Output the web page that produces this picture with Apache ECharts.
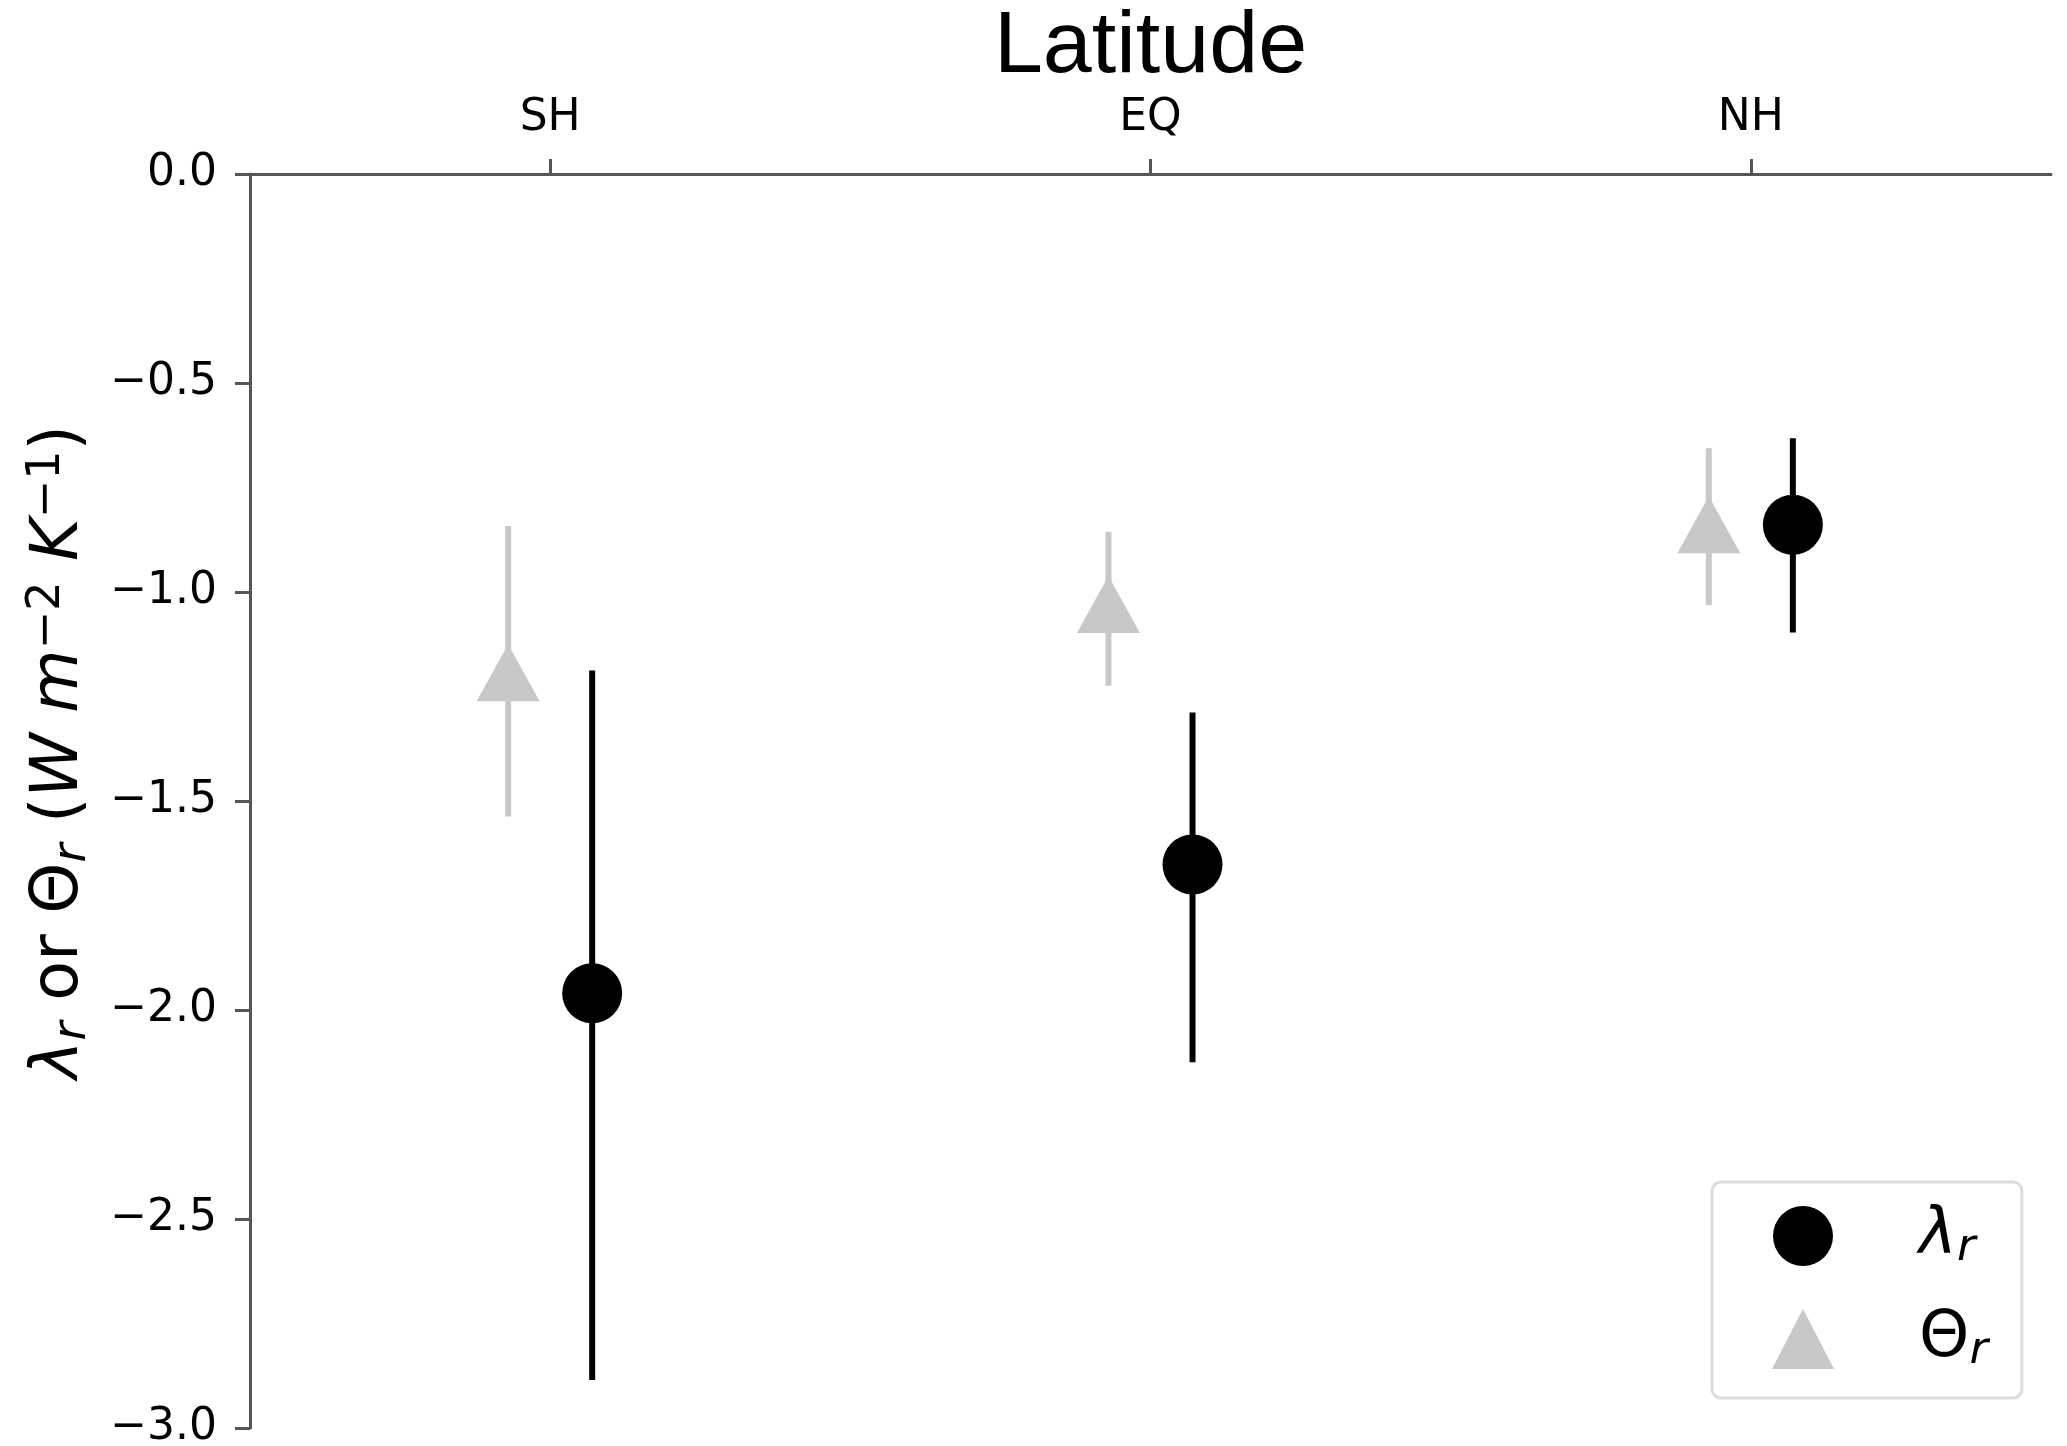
<!DOCTYPE html>
<html>
<head>
<meta charset="utf-8">
<script src="https://cdn.jsdelivr.net/npm/echarts@6/dist/echarts.min.js"></script>
<style>
  html, body { margin: 0; padding: 0; background: #fff; }
  #main { width: 2067px; height: 1446px; }
</style>
</head>
<body>
<div id="main"></div>
<script>
// regions along the top axis
const regions = ['SH', 'EQ', 'NH'];
const regionPos = [-1, 0, 1];

// lambda_r : value and error bar ends
const lambdaVal = [-1.96, -1.652, -0.839];
const lambdaLow = [-2.885, -2.125, -1.097];
const lambdaHigh = [-1.188, -1.288, -0.632];

// Theta_r : value and error bar ends
const thetaVal = [-1.193, -1.030, -0.839];
const thetaLow = [-1.537, -1.224, -1.031];
const thetaHigh = [-0.842, -0.856, -0.656];

const dodge = 0.07;   // side shift of the two series around each region
const black = '#000000', grey = '#c8c8c8';

let lambdaPts = regionPos.map((p, i) => [p + dodge, lambdaVal[i]]);
let thetaPts = regionPos.map((p, i) => [p - dodge, thetaVal[i]]);
let lambdaBars = regionPos.map((p, i) => [p + dodge, lambdaLow[i], lambdaHigh[i]]);
let thetaBars = regionPos.map((p, i) => [p - dodge, thetaLow[i], thetaHigh[i]]);

// vertical error bar, no caps
let errorBar = (color) => (params, api) => {
    let a = api.coord([api.value(0), api.value(1)]);
    let b = api.coord([api.value(0), api.value(2)]);
    return {
        type: 'line',
        shape: { x1: a[0], y1: a[1], x2: b[0], y2: b[1] },
        style: { stroke: color, lineWidth: 6 }
    };
};

let axisGrey = '#555555';
let myChart = echarts.init(document.getElementById('main'), null, { renderer: 'canvas' });
myChart.setOption({
    backgroundColor: '#ffffff',
    animation: false,
    grid: { left: 250, right: 16, top: 174, bottom: 18, outerBoundsMode: 'none' },
    xAxis: {
        type: 'value',
        position: 'top',
        min: -1.5,
        max: 1.5,
        splitLine: { show: false },
        axisLine: { show: true, onZero: false, lineStyle: { color: axisGrey, width: 3 } },
        axisTick: { show: true, length: 15, customValues: regionPos, lineStyle: { color: axisGrey, width: 3 } },
        axisLabel: {
            customValues: regionPos,
            formatter: (v) => regions[regionPos.indexOf(v)],
            fontSize: 44, fontFamily: 'DejaVu Sans', color: '#000', margin: 33
        },
        name: 'Latitude',
        nameLocation: 'middle',
        nameGap: 82,
        nameTextStyle: { fontSize: 88, fontFamily: 'Liberation Sans', color: '#000' }
    },
    yAxis: {
        type: 'value',
        min: -3,
        max: 0,
        interval: 0.5,
        splitLine: { show: false },
        axisLine: { show: true, onZero: false, lineStyle: { color: axisGrey, width: 3 } },
        axisTick: { show: true, length: 15, lineStyle: { color: axisGrey, width: 3 } },
        axisLabel: {
            formatter: (v) => (v < 0 ? '\u2212' : '') + Math.abs(v).toFixed(1),
            fontSize: 44, fontFamily: 'DejaVu Sans', color: '#000', margin: 33
        }
    },
    legend: {
        data: [{ name: 'lambda', icon: 'circle' }, { name: 'theta', icon: 'triangle' }],
        orient: 'vertical',
        left: 1712,
        top: 1182,
        padding: [22, 34, 24, 60],
        itemWidth: 62,
        itemHeight: 60,
        itemGap: 36,
        selectedMode: false,
        backgroundColor: '#ffffff',
        borderColor: '#dcdcdc',
        borderWidth: 3,
        borderRadius: 9,
        formatter: (n) => n === 'lambda' ? '{g|λ}{s|r}' : '{u|Θ}{s|r}',
        textStyle: {
            color: '#000',
            rich: {
                g: { fontSize: 64, fontFamily: 'DejaVu Sans', fontStyle: 'italic', lineHeight: 70, padding: [0, 0, 0, 80] },
                u: { fontSize: 64, fontFamily: 'DejaVu Sans', lineHeight: 70, padding: [0, 0, 0, 80] },
                s: { fontSize: 45, fontFamily: 'DejaVu Sans', fontStyle: 'italic', lineHeight: 38, verticalAlign: 'bottom' }
            }
        }
    },
    graphic: [{
        type: 'text',
        x: 60,
        y: 752,
        rotation: Math.PI / 2,
        style: {
            text: '{i|λ}{s|r}{n| or Θ}{s|r}{n| (}{i|W m}{p|\u22122}{i| K}{p|\u22121}{n|)}',
            align: 'center',
            verticalAlign: 'middle',
            fill: '#000',
            rich: {
                n: { fontSize: 65, fontFamily: 'DejaVu Sans', lineHeight: 72, fill: '#000' },
                i: { fontSize: 65, fontFamily: 'DejaVu Sans', fontStyle: 'italic', lineHeight: 72, fill: '#000' },
                s: { fontSize: 46, fontFamily: 'DejaVu Sans', fontStyle: 'italic', lineHeight: 38, verticalAlign: 'bottom', fill: '#000' },
                p: { fontSize: 46, fontFamily: 'DejaVu Sans', lineHeight: 16, verticalAlign: 'top', fill: '#000' }
            }
        }
    }],
    series: [
        {
            name: 'theta bars', type: 'custom', data: thetaBars, z: 2,
            encode: { x: 0, y: [1, 2] }, renderItem: errorBar(grey), silent: true
        },
        {
            name: 'lambda bars', type: 'custom', data: lambdaBars, z: 2,
            encode: { x: 0, y: [1, 2] }, renderItem: errorBar(black), silent: true
        },
        {
            name: 'theta', type: 'scatter', data: thetaPts, z: 3,
            symbol: 'triangle', symbolSize: [63, 57],
            itemStyle: { color: grey, opacity: 1 }
        },
        {
            name: 'lambda', type: 'scatter', data: lambdaPts, z: 3,
            symbol: 'circle', symbolSize: 60,
            itemStyle: { color: black, opacity: 1 }
        }
    ]
});
</script>
</body>
</html>
